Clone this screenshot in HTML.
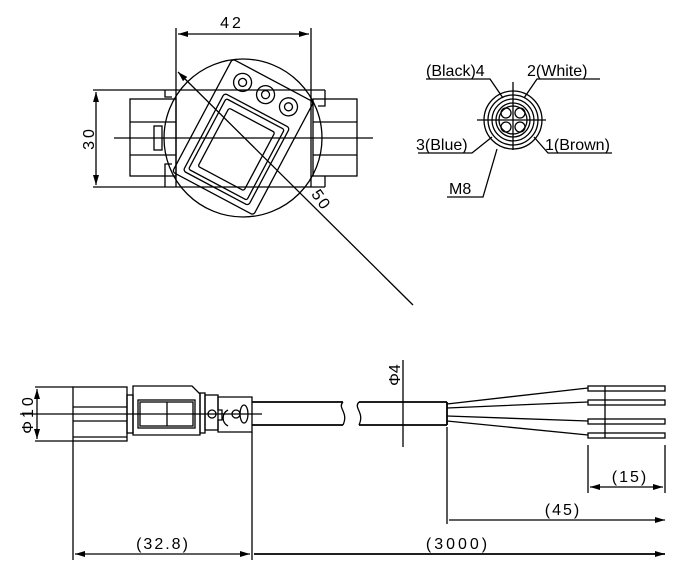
<!DOCTYPE html>
<html><head><meta charset="utf-8"><style>body{margin:0;background:#fff}svg{display:block}text{font-family:"Liberation Sans",sans-serif;font-size:16px;fill:#000}</style></head><body>
<svg width="700" height="576" viewBox="0 0 700 576" xmlns="http://www.w3.org/2000/svg">
<defs><marker id="a" markerWidth="10" markerHeight="6" refX="10" refY="3" orient="auto-start-reverse" markerUnits="userSpaceOnUse"><path d="M0,0L10,3L0,6z" fill="#000"/></marker></defs>
<g stroke="#000" fill="none" stroke-width="1.3">
<!-- top view -->
<line x1="176" y1="28" x2="176" y2="90"/><line x1="311" y1="28" x2="311" y2="90"/>
<line x1="178" y1="34" x2="309" y2="34" marker-start="url(#a)" marker-end="url(#a)"/>
<line x1="93" y1="90" x2="325" y2="90"/><line x1="93" y1="187" x2="325" y2="187"/>
<line x1="96" y1="92" x2="96" y2="185" marker-start="url(#a)" marker-end="url(#a)"/>
<rect x="130" y="99" width="46" height="77"/><line x1="130" y1="122" x2="176" y2="122"/><line x1="130" y1="155" x2="176" y2="155"/>
<rect x="154" y="126" width="8" height="24"/>
<rect x="313" y="99" width="44" height="77"/><line x1="313" y1="122" x2="357" y2="122"/><line x1="313" y1="155" x2="357" y2="155"/>
<line x1="311" y1="90" x2="311" y2="187"/><line x1="176" y1="90" x2="176" y2="187"/>
<polyline points="165,90 165,97 172,97"/><polyline points="325,90 325,106 318,106"/>
<polyline points="165,187 165,164 172,164"/><polyline points="325,187 325,176"/>
<circle cx="243" cy="138" r="79"/>
<line x1="114" y1="138" x2="373" y2="138"/>
<g transform="translate(243,137) rotate(28)">
<rect x="-46" y="-64" width="92" height="128" rx="3"/>
<rect x="-37" y="-30" width="74" height="88" rx="3"/>
<rect x="-33" y="-26" width="66" height="80" rx="2"/>
<rect x="-26" y="-19" width="52" height="66" rx="2"/>
<circle cx="-26" cy="-48" r="9"/><circle cx="-26" cy="-48" r="4"/>
<circle cx="0" cy="-48" r="9"/><circle cx="0" cy="-48" r="4"/>
<circle cx="26" cy="-48" r="9"/><circle cx="26" cy="-48" r="4"/>
</g>
<line x1="178" y1="72" x2="413" y2="305" marker-start="url(#a)"/>
<!-- pin view -->
<circle cx="513" cy="120" r="29"/><circle cx="513" cy="120" r="25"/><circle cx="513" cy="120" r="21"/><circle cx="513" cy="120" r="17"/><circle cx="513" cy="120" r="14"/>
<circle cx="506" cy="113" r="5"/><circle cx="520" cy="113" r="5"/><circle cx="506" cy="127" r="5"/><circle cx="520" cy="127" r="5"/>
<line x1="477" y1="120" x2="546" y2="120"/><line x1="513" y1="82" x2="513" y2="150"/>
<polyline points="426,79 490,79 503,98"/><polyline points="600,79 537,79 524,98"/>
<polyline points="418,153 472,153 492,137"/><polyline points="612,153 548,153 534,137"/>
<polyline points="447,197 483,197 497,149"/>
<!-- side view -->
<line x1="20" y1="414" x2="262" y2="414"/>
<line x1="35" y1="387" x2="73" y2="387"/><line x1="35" y1="441" x2="73" y2="441"/>
<line x1="37" y1="389" x2="37" y2="439" marker-start="url(#a)" marker-end="url(#a)"/>
<rect x="73" y="387" width="54" height="54"/><line x1="73" y1="407" x2="127" y2="407"/><line x1="73" y1="421" x2="127" y2="421"/><line x1="73" y1="437" x2="127" y2="437"/>
<rect x="127" y="395" width="6" height="38"/>
<polygon points="133,386 192,386 200,394 200,435 133,435"/>
<rect x="138" y="400" width="57" height="28"/><rect x="140" y="402" width="53" height="24"/><line x1="167" y1="402" x2="167" y2="426"/>
<rect x="200" y="393" width="5" height="40"/><rect x="205" y="395" width="13" height="35"/>
<circle cx="212" cy="414" r="4"/>
<path d="M218,397H252V432H218V420H222V410H218Z"/>
<path d="M228,410a9,9 0 0 0 0,16"/><ellipse cx="244" cy="414" rx="4" ry="9"/><circle cx="236" cy="414" r="4"/>
<path d="M252,402H343M252,425H343M359,402H447M359,425H447M447,402V425" stroke-width="1.8"/>
<path d="M343,402c-6,6,6,10,0,23M359,402c-6,6,6,10,0,23"/>
<line x1="403" y1="360" x2="403" y2="447"/>
<path d="M447,404L588,388M447,408L588,402M447,416L588,421M447,421L588,435"/>
<rect x="588" y="386" width="77" height="5"/><rect x="588" y="400" width="77" height="5"/><rect x="588" y="419" width="77" height="5"/><rect x="588" y="433" width="77" height="5"/>
<line x1="605" y1="386" x2="605" y2="438"/>
<line x1="588" y1="445" x2="588" y2="493"/><line x1="665" y1="445" x2="665" y2="493"/>
<line x1="590" y1="487" x2="663" y2="487" marker-start="url(#a)" marker-end="url(#a)"/>
<line x1="447" y1="427" x2="447" y2="524"/>
<line x1="449" y1="520" x2="665" y2="520" marker-end="url(#a)"/>
<line x1="73" y1="441" x2="73" y2="560"/><line x1="252" y1="432" x2="252" y2="560"/>
<line x1="75" y1="554" x2="250" y2="554" marker-start="url(#a)" marker-end="url(#a)"/>
<line x1="254" y1="554" x2="665" y2="554" stroke-width="1.8" marker-end="url(#a)"/>
</g>
<text x="232" y="28" text-anchor="middle" letter-spacing="3">42</text>
<text transform="translate(94,138) rotate(-90)" text-anchor="middle" letter-spacing="3">30</text>
<text transform="translate(317,203) rotate(55)" text-anchor="middle" letter-spacing="2">50</text>
<text x="426" y="76">(Black)4</text><text x="527" y="76">2(White)</text>
<text x="416" y="150">3(Blue)</text><text x="545" y="150">1(Brown)</text>
<text x="449" y="194">M8</text>
<text transform="translate(33,414) rotate(-90)" text-anchor="middle" letter-spacing="3">Φ10</text>
<text transform="translate(400,375) rotate(-90)" text-anchor="middle">Φ4</text>
<text x="630" y="482" text-anchor="middle" letter-spacing="2">(15)</text>
<text x="563" y="515" text-anchor="middle" letter-spacing="2">(45)</text>
<text x="163" y="549" text-anchor="middle" letter-spacing="2">(32.8)</text>
<text x="458" y="549" text-anchor="middle" letter-spacing="3">(3000)</text>
</svg>
</body></html>
